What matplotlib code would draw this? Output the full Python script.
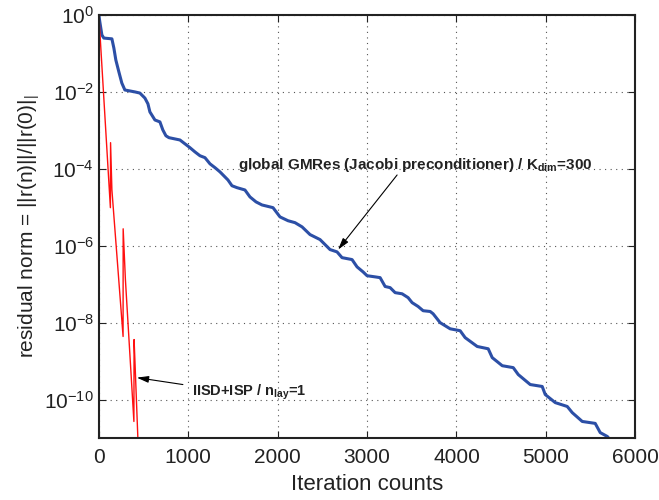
import numpy as np
import matplotlib
matplotlib.use("Agg")
import matplotlib.pyplot as plt
from matplotlib.ticker import FixedLocator

plt.rcParams['font.family'] = ['Liberation Sans', 'DejaVu Sans']
plt.rcParams['mathtext.fontset'] = 'custom'
plt.rcParams['mathtext.rm'] = 'Liberation Sans'
plt.rcParams['mathtext.it'] = 'Liberation Sans'
plt.rcParams['mathtext.bf'] = 'Liberation Sans:bold'

# global GMRes convergence history (iteration, log10 residual)
gmres_iter = [0, 11, 34, 56, 146, 168, 190, 224, 257, 291, 403, 459, 515, 549, 571,
              627, 683, 716, 750, 784, 907, 963, 1019, 1075, 1131, 1187, 1243, 1299,
              1355, 1444, 1489, 1545, 1634, 1690, 1758, 1825, 1948, 2026, 2116, 2194,
              2273, 2362, 2474, 2586, 2664, 2720, 2832, 2888, 2955, 3000, 3090, 3146,
              3202, 3258, 3314, 3392, 3459, 3504, 3571, 3627, 3706, 3739, 3817, 3929,
              4041, 4097, 4232, 4355, 4400, 4512, 4635, 4691, 4825, 4959, 4993, 5105,
              5239, 5295, 5407, 5552, 5608, 5687, 5720]
gmres_log = [0, -0.18, -0.52, -0.60, -0.62, -0.86, -1.17, -1.48, -1.77, -1.95, -2.00,
             -2.03, -2.16, -2.31, -2.52, -2.73, -2.78, -2.99, -3.14, -3.19, -3.25, -3.35,
             -3.45, -3.56, -3.66, -3.71, -3.87, -3.97, -4.08, -4.29, -4.44, -4.49, -4.55,
             -4.73, -4.86, -4.94, -5.01, -5.25, -5.35, -5.40, -5.51, -5.71, -5.84, -6.10,
             -6.16, -6.31, -6.36, -6.55, -6.68, -6.78, -6.81, -6.83, -7.06, -7.09, -7.22,
             -7.25, -7.35, -7.48, -7.58, -7.69, -7.71, -7.77, -8.00, -8.16, -8.21, -8.39,
             -8.62, -8.68, -8.91, -9.12, -9.17, -9.35, -9.61, -9.66, -9.87, -10.08, -10.18,
             -10.34, -10.57, -10.62, -10.86, -10.96, -11.05]

# IISD+ISP convergence history
iisd_iter = [0, 129, 131, 146, 271, 272, 297, 392, 394, 403, 437]
iisd_log = [0, -5.01, -3.32, -4.55, -8.36, -5.56, -6.88, -10.57, -8.44, -8.96, -11.04]

xticks = [0, 1000, 2000, 3000, 4000, 5000, 6000]
yticks = [1e0, 1e-2, 1e-4, 1e-6, 1e-8, 1e-10]

fig = plt.figure(figsize=(6.59, 5.0), dpi=100)
ax = fig.add_axes([0.150, 0.124, 0.814, 0.846])

ax.semilogy(gmres_iter, 10.0 ** np.array(gmres_log), color="#2c4fa6", lw=2.2,
            solid_joinstyle="round")
ax.semilogy(iisd_iter, 10.0 ** np.array(iisd_log), color="#ff1010", lw=1.0)

ax.set_xlim(0, 6000)
ax.set_ylim(1e-11, 1e0)
ax.xaxis.set_major_locator(FixedLocator(xticks))
ax.yaxis.set_major_locator(FixedLocator(yticks))
ax.yaxis.set_minor_locator(FixedLocator([]))
ax.grid(True, which="major", linestyle=(0, (1, 4)), color="#555555", lw=0.8)
ax.tick_params(direction="in", which="both", top=True, right=True, labelsize=15,
               length=5, width=0.8, colors="#222222")
ax.tick_params(axis="x", pad=7)
for s in ax.spines.values():
    s.set_linewidth(1.5)
    s.set_color("#222222")

ax.set_xlabel("Iteration counts", fontsize=16, labelpad=5, color="#222222")
ax.set_ylabel("residual norm = ||r(n)||/||r(0)|$_|$", fontsize=15, labelpad=2,
              color="#222222")

# annotations
ax.annotate("", xy=(2676, 10 ** -6.10), xytext=(3336, 10 ** -4.16),
            arrowprops=dict(arrowstyle="-|>,head_length=0.7,head_width=0.2",
                            color="black", lw=0.8, shrinkA=0, shrinkB=0))
ax.text(1560, 10 ** -3.9, "global GMRes (Jacobi preconditioner) / K$_\\mathbf{dim}$=300",
        fontsize=11, fontweight="bold", va="center", ha="left", color="#222222")

ax.annotate("", xy=(425, 10 ** -9.43), xytext=(940, 10 ** -9.61),
            arrowprops=dict(arrowstyle="-|>,head_length=0.7,head_width=0.2",
                            color="black", lw=0.8, shrinkA=0, shrinkB=0))
ax.text(1040, 10 ** -9.8, "IISD+ISP / n$_\\mathbf{lay}$=1",
        fontsize=10.5, fontweight="bold", va="center", ha="left", color="#222222")

fig.savefig("out.png", dpi=100)
